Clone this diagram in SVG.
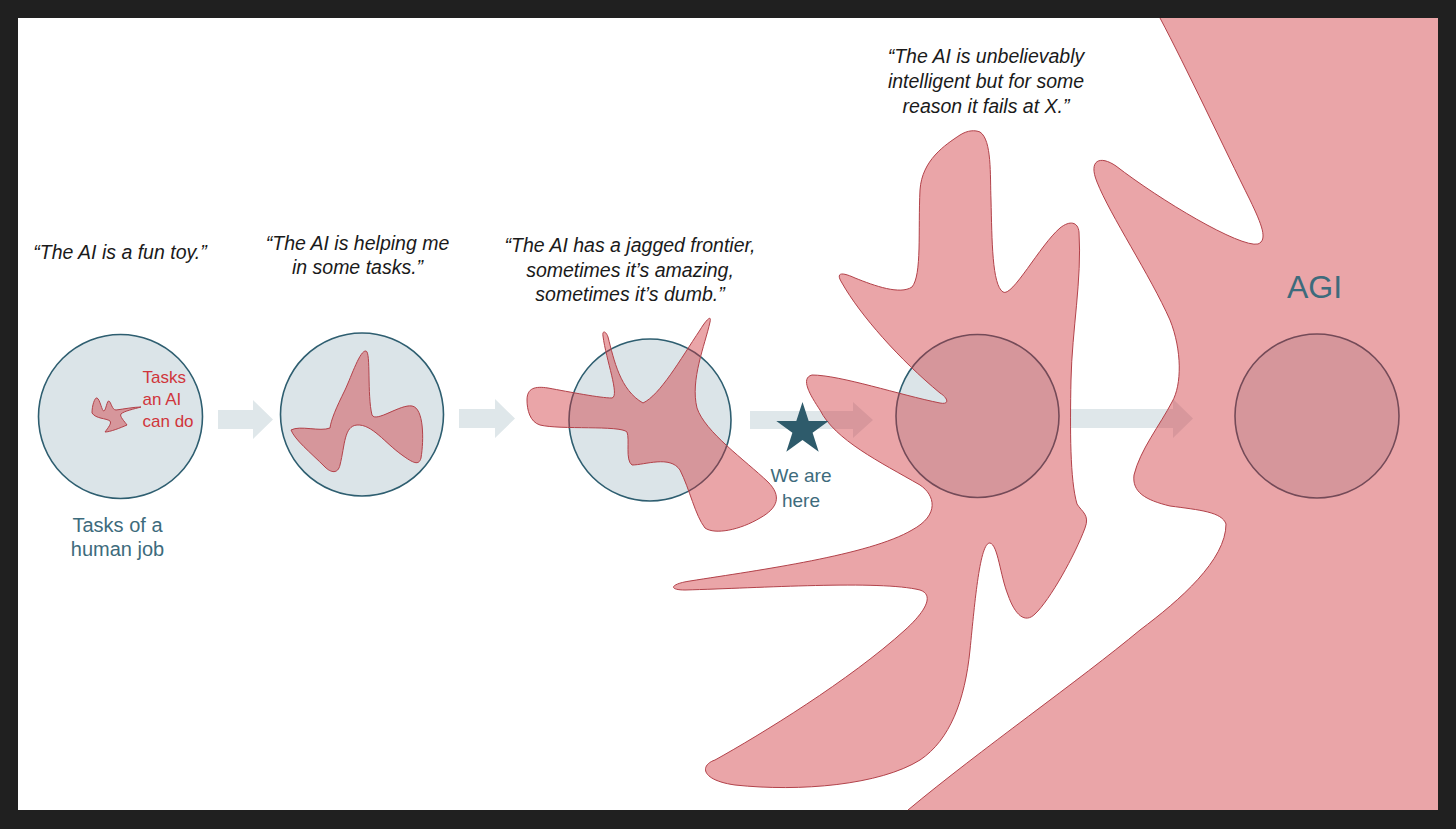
<svg xmlns="http://www.w3.org/2000/svg" width="1456" height="829" viewBox="0 0 1456 829">
<style>
.circ{fill:#dbe4e8;stroke:#2e5e70;stroke-width:1.6}
.blob{fill:#d0323a;fill-opacity:0.44;stroke:#b2424a;stroke-width:1;stroke-linejoin:round}
.blobfill{fill:#d0323a;fill-opacity:0.44;stroke:none}
.blobline{fill:none;stroke:#b2424a;stroke-width:1}
.arrow{fill:#dfe7ea}
.quote{font-family:"Liberation Sans",Arial,sans-serif;font-style:italic;font-size:19.5px;fill:#1a1a1a;text-anchor:middle}
.teal{font-family:"Liberation Sans",Arial,sans-serif;fill:#3d6b7c;text-anchor:middle}
.red{font-family:"Liberation Sans",Arial,sans-serif;font-size:17px;fill:#d0353b}
</style>
<rect x="0" y="0" width="1456" height="829" fill="#202020"/>
<rect x="18" y="18" width="1420" height="792" fill="#ffffff"/>

<g id="connectors">
<polygon class="arrow" points="218,410 253,410 253,400 273,419.5 253,439 253,429 218,429"/>
<polygon class="arrow" points="459,409 495,409 495,399 515,418.5 495,438 495,428 459,428"/>
<polygon class="arrow" points="750,411 853,411 853,402 873,420 853,438 853,429 750,429"/>
<polygon class="arrow" points="1071,409 1173,409 1173,399 1193,418.5 1173,438 1173,428 1071,428"/>
</g>

<g id="node1">
<text class="quote" x="120" y="259">“The AI is a fun toy.”</text>
<circle class="circ" cx="120.5" cy="416.5" r="82"/>
<path class="blob" d="M92 413 C92 405 95 397 97 398 C100 399 102 412 104 411 C106 410 107 400 109 401 C111 402 112 410 116 410 C124 409 134 407 141 407 C134 409 124 411 121 414 C119 416 125 422 127 425 C120 428 110 432 105 432 C108 428 112 423 110 421 C106 418 96 419 92 413 Z"/>
<text class="red" x="142.5" y="383">Tasks</text>
<text class="red" x="142.5" y="405">an AI</text>
<text class="red" x="142.5" y="426.5">can do</text>
<text class="teal" font-size="20" x="117.5" y="532">Tasks of a</text>
<text class="teal" font-size="20" x="117.5" y="555.5">human job</text>
</g>

<g id="node2">
<text class="quote" x="357.5" y="250">“The AI is helping me</text>
<text class="quote" x="357.5" y="274">in some tasks.”</text>
<circle class="circ" cx="362" cy="414.5" r="81.5"/>
<path class="blob" d="M366 351 C371 352 367 395 372 415 C376 423 400 404 412 406 C424 408 424 440 421 458 C419 466 413 463 402 455 C385 443 372 424 357 425 C344 426 345 445 340 465 C338 474 331 473 325 467 C310 452 295 440 291 430 C300 425 320 432 330 428 C331 420 336 408 345 390 C352 375 360 350 366 351 Z"/>
</g>

<g id="node3">
<text class="quote" x="630" y="252">“The AI has a jagged frontier,</text>
<text class="quote" x="630" y="277">sometimes it’s amazing,</text>
<text class="quote" x="630" y="301">sometimes it’s dumb.”</text>
<circle class="circ" cx="650" cy="420" r="81"/>
<path class="blob" d="M527 400 C527 388 535 386 548 388 C570 392 600 398 612 398 C620 396 606 360 603 336 C602 330 606 331 608 337 C614 360 620 390 643 403 C660 395 680 360 700 330 C706 320 712 314 710 322 C705 345 690 380 697 408 C705 432 745 460 768 482 C782 496 778 508 760 518 C740 530 715 535 705 528 C695 515 690 490 680 470 C670 455 645 465 632 465 C625 460 630 440 627 432 C620 425 560 430 540 425 C530 422 527 410 527 400 Z"/>
</g>

<g id="node4">
<text class="quote" x="986" y="63">“The AI is unbelievably</text>
<text class="quote" x="986" y="88">intelligent but for some</text>
<text class="quote" x="986" y="113">reason it fails at X.”</text>
<circle class="circ" cx="977.5" cy="416" r="81.5"/>
<path class="blob" d="M980 132 C992 140 990 175 991 200 C992 240 992 285 1003 292 C1012 298 1040 245 1060 228 C1070 220 1078 222 1079 232 C1082 280 1072 330 1071 380 C1070 430 1070 480 1077 504 C1082 512 1090 515 1085 528 C1075 555 1050 600 1035 614 C1025 624 1015 615 1008 595 C1000 575 998 545 990 543 C980 542 975 600 970 650 C965 700 950 740 920 760 C880 785 800 792 735 785 C700 780 700 765 715 760 C760 735 850 680 905 630 C925 612 935 595 920 590 C880 580 760 588 685 590 C668 590 670 584 690 581 C760 570 870 555 912 530 C940 515 935 495 920 485 C880 462 835 440 820 410 C810 395 800 378 812 375 C840 375 900 395 940 403 C950 405 948 398 940 393 C900 360 860 315 842 283 C835 272 842 272 855 278 C875 286 900 295 912 287 C922 275 918 230 920 190 C922 160 945 145 960 135 C968 130 975 130 980 132 Z"/>
</g>

<g id="node5">
<circle class="circ" cx="1317" cy="416" r="82"/>
<path class="blobfill" d="M1160 18 C1185 65 1225 150 1250 200 C1262 225 1268 240 1258 244 C1240 248 1160 200 1116 166 C1100 155 1088 160 1097 182 C1110 215 1150 275 1170 320 C1182 350 1182 385 1172 402 C1160 425 1140 450 1134 475 C1132 492 1145 500 1170 506 C1200 510 1222 512 1226 524 C1226 560 1180 600 1140 630 C1080 680 980 750 908 810 L1438 810 L1438 18 Z"/>
<path class="blobline" d="M1160 18 C1185 65 1225 150 1250 200 C1262 225 1268 240 1258 244 C1240 248 1160 200 1116 166 C1100 155 1088 160 1097 182 C1110 215 1150 275 1170 320 C1182 350 1182 385 1172 402 C1160 425 1140 450 1134 475 C1132 492 1145 500 1170 506 C1200 510 1222 512 1226 524 C1226 560 1180 600 1140 630 C1080 680 980 750 908 810"/>
<text class="teal" font-size="32" x="1314.5" y="298">AGI</text>
</g>

<g id="marker-here">
<polygon fill="#2e5b6b" points="802.5,402 808.7,421 828.7,421 812.6,432.8 818.7,451.8 802.5,440 786.3,451.8 792.4,432.8 776.3,421 796.3,421"/>
<text class="teal" font-size="19" x="801" y="482">We are</text>
<text class="teal" font-size="19" x="801" y="507">here</text>
</g>
</svg>
